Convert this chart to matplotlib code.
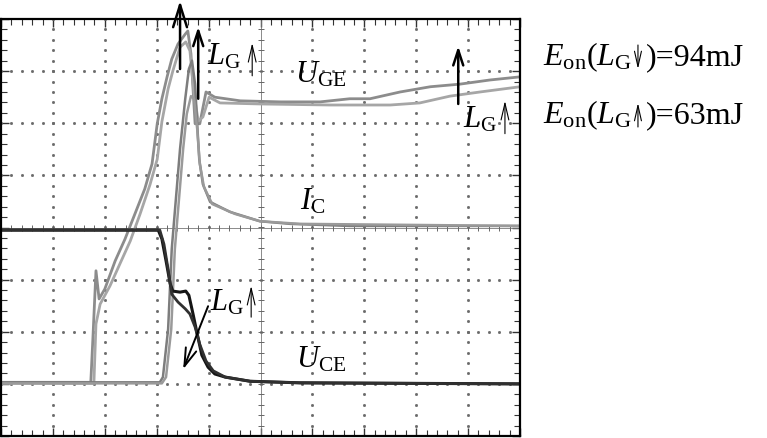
import numpy as np
import matplotlib
matplotlib.use('Agg')
import matplotlib.pyplot as plt

plt.rcParams['font.family'] = ['Liberation Serif', 'DejaVu Serif']
plt.rcParams['mathtext.fontset'] = 'custom'
plt.rcParams['mathtext.rm'] = 'Liberation Serif'
plt.rcParams['mathtext.it'] = 'Liberation Serif:italic'

# Осциллограмма включения: время и амплитуда в делениях сетки (10 x 8)
# U_GE, две кривые (L_G мал / L_G велик)
t_uge1 = [0, 1.73, 1.77, 1.83, 1.89, 2.00, 2.20, 2.39, 2.58, 2.77, 2.91, 3.01, 3.10,
          3.20, 3.29, 3.41, 3.55, 3.60, 3.66, 3.74, 3.83, 3.95, 4.12, 4.61, 5.38,
          6.15, 6.72, 7.11, 7.69, 8.27, 8.84, 9.42, 10.0]
v_uge1 = [-2.97, -2.97, -2.14, -0.83, -1.37, -1.18, -0.64, -0.22, 0.26, 0.74, 1.22, 1.99, 2.47,
          2.89, 3.23, 3.52, 3.71, 3.77, 3.33, 1.99, 1.99, 2.60, 2.50, 2.43, 2.41,
          2.41, 2.47, 2.47, 2.60, 2.70, 2.75, 2.83, 2.89]
t_uge2 = [0, 1.79, 1.83, 1.91, 2.10, 2.29, 2.49, 2.68, 2.87, 3.01, 3.10, 3.22, 3.31, 3.45,
          3.56, 3.64, 3.72, 3.80, 3.89, 4.01, 4.22, 4.99, 6.34, 7.50, 8.07, 8.65, 9.23, 10.0]
v_uge2 = [-2.99, -2.99, -1.85, -1.47, -1.12, -0.70, -0.26, 0.26, 0.82, 1.31, 2.03, 2.66, 3.00, 3.46,
          3.56, 3.39, 2.56, 2.04, 2.12, 2.50, 2.39, 2.37, 2.35, 2.35, 2.39, 2.52, 2.60, 2.70]

# I_C
t_ic1 = [0, 3.06, 3.12, 3.22, 3.29, 3.37, 3.45, 3.55, 3.62, 3.68, 3.74, 3.78, 3.82, 3.89,
         4.03, 4.41, 4.99, 5.57, 6.72, 10.0]
v_ic1 = [-2.97, -2.97, -2.87, -1.95, -0.41, 0.55, 1.51, 2.47, 3.04, 3.20, 2.75, 1.99, 1.31, 0.83,
         0.49, 0.30, 0.12, 0.07, 0.03, 0.03]
t_ic2 = [0, 3.10, 3.18, 3.28, 3.35, 3.43, 3.51, 3.58, 3.66, 3.72, 3.78, 3.83, 3.91, 4.07,
         4.51, 4.99, 5.76, 10.0]
v_ic2 = [-2.99, -2.99, -2.87, -1.95, -0.41, 0.55, 1.51, 2.18, 2.52, 2.47, 1.89, 1.22, 0.78, 0.45,
         0.26, 0.12, 0.07, 0.03]

# U_CE
t_uce1 = [0, 3.03, 3.10, 3.18, 3.26, 3.31, 3.45, 3.56, 3.62, 3.70, 3.78, 3.87, 3.99, 4.12,
          4.32, 4.80, 5.76, 10.0]
v_uce1 = [-0.05, -0.05, -0.22, -0.64, -1.08, -1.22, -1.24, -1.22, -1.30, -1.66, -2.04, -2.45, -2.68, -2.81,
          -2.87, -2.95, -2.98, -3.00]
t_uce2 = [0, 3.06, 3.14, 3.22, 3.29, 3.41, 3.55, 3.64, 3.74, 3.83, 3.95, 4.09, 4.32, 4.80, 5.76, 10.0]
v_uce2 = [-0.05, -0.05, -0.32, -0.80, -1.28, -1.43, -1.56, -1.66, -1.91, -2.24, -2.56, -2.75, -2.87,
          -2.95, -2.98, -3.00]

eon_text = [('94mJ', 'down'), ('63mJ', 'up')]

fig = plt.figure(figsize=(7.67, 4.39), dpi=100)
ax = fig.add_axes([1 / 767, 2 / 439, 519 / 767, 417 / 439])
ax.set_xlim(0, 10)
ax.set_ylim(-4, 4)

# сетка осциллографа
fine = np.arange(0, 10.01, 0.2)
fine_y = np.arange(-4, 4.01, 0.2)
for gx in range(1, 10):
    if gx != 5:
        ax.plot(np.full_like(fine_y, gx), fine_y, ls='none', marker='s', ms=1.0, color='#6a6a6a')
for gy in range(-3, 4):
    if gy != 0:
        ax.plot(fine, np.full_like(fine, gy), ls='none', marker='s', ms=1.0, color='#6a6a6a')
ax.axhline(0, color='#777777', lw=0.6)
ax.axvline(5, color='#777777', lw=0.6)
ax.plot(fine, np.zeros_like(fine), ls='none', marker='|', ms=5, mew=0.7, color='#666666')
ax.plot(np.full_like(fine_y, 5), fine_y, ls='none', marker='_', ms=5, mew=0.7, color='#666666')

ax.xaxis.set_minor_locator(matplotlib.ticker.MultipleLocator(0.2))
ax.yaxis.set_minor_locator(matplotlib.ticker.MultipleLocator(0.2))
ax.xaxis.set_major_locator(matplotlib.ticker.MultipleLocator(1))
ax.yaxis.set_major_locator(matplotlib.ticker.MultipleLocator(1))
ax.tick_params(which='both', direction='in', top=True, right=True,
               labelbottom=False, labelleft=False, color='#333333')
ax.tick_params(which='major', length=6, width=1)
ax.tick_params(which='minor', length=4, width=0.8)
for s in ax.spines.values():
    s.set_linewidth(1.6)

# кривые
ax.plot(t_uge1, v_uge1, color='#8c8c8c', lw=2.0)
ax.plot(t_uge2, v_uge2, color='#a6a6a6', lw=2.0)
ax.plot(t_ic1, v_ic1, color='#7d7d7d', lw=1.8)
ax.plot(t_ic2, v_ic2, color='#9a9a9a', lw=1.8)
ax.plot(t_uce1, v_uce1, color='#151515', lw=2.2)
ax.plot(t_uce2, v_uce2, color='#303030', lw=2.0)

# стрелки
def arrow(x0, y0, x1, y1, hl, hw, lw=1.8, coords='data'):
    ax.annotate('', xy=(x1, y1), xytext=(x0, y0), annotation_clip=False,
                xycoords=coords, textcoords=coords,
                arrowprops=dict(arrowstyle=f'->,head_length={hl},head_width={hw}',
                                color='black', lw=lw, shrinkA=0, shrinkB=0,
                                mutation_scale=10))

arrow(3.45, 3.04, 3.45, 4.35, 1.6, 0.5)
arrow(3.80, 2.47, 3.80, 3.85, 1.1, 0.36)
arrow(8.81, 2.37, 8.81, 3.48, 1.1, 0.36)
arrow(3.99, -1.51, 3.51, -2.72, 1.3, 0.4, lw=1.4)

# тонкие стрелки рядом с L_G
thin = [(4.84, 2.91, 3.54), (9.71, 1.80, 2.43), (4.82, -1.72, -1.12)]
for x, ya, yb in thin:
    arrow(x, ya, x, yb, 1.2, 0.28, lw=0.8)

fs = 22
ax.text(3.97, 3.14, r'$L_{\rm G}$', fontsize=fs, va='baseline')
ax.text(8.90, 1.93, r'$L_{\rm G}$', fontsize=fs, va='baseline')
ax.text(4.03, -1.57, r'$L_{\rm G}$', fontsize=fs, va='baseline')
ax.text(5.66, 2.81, r'$U_{\rm GE}$', fontsize=fs, va='baseline')
ax.text(5.76, 0.37, r'$I_{\rm C}$', fontsize=fs, va='baseline')
ax.text(5.68, -2.66, r'$U_{\rm CE}$', fontsize=fs, va='baseline')

# подписи E_on справа: текст + тонкая стрелка + текст
fig.canvas.draw()
rend = fig.canvas.get_renderer()
base_y = [374, 316]
for (val, d), by in zip(eon_text, base_y):
    t1 = fig.text(543 / 767, by / 439, r'$E_{\rm on}(L_{\rm G}$', fontsize=23, va='baseline')
    bb = t1.get_window_extent(rend)
    ax_x = bb.x1 + 6
    top, bot = by + 19, by - 5
    if d == 'down':
        arrow(ax_x, top, ax_x, bot, 1.1, 0.25, lw=0.8, coords='figure pixels')
    else:
        arrow(ax_x, bot, ax_x, top, 1.1, 0.25, lw=0.8, coords='figure pixels')
    fig.text((bb.x1 + 14) / 767, by / 439, ')=' + val, fontsize=23, va='baseline')

fig.savefig('out.png', dpi=100)
